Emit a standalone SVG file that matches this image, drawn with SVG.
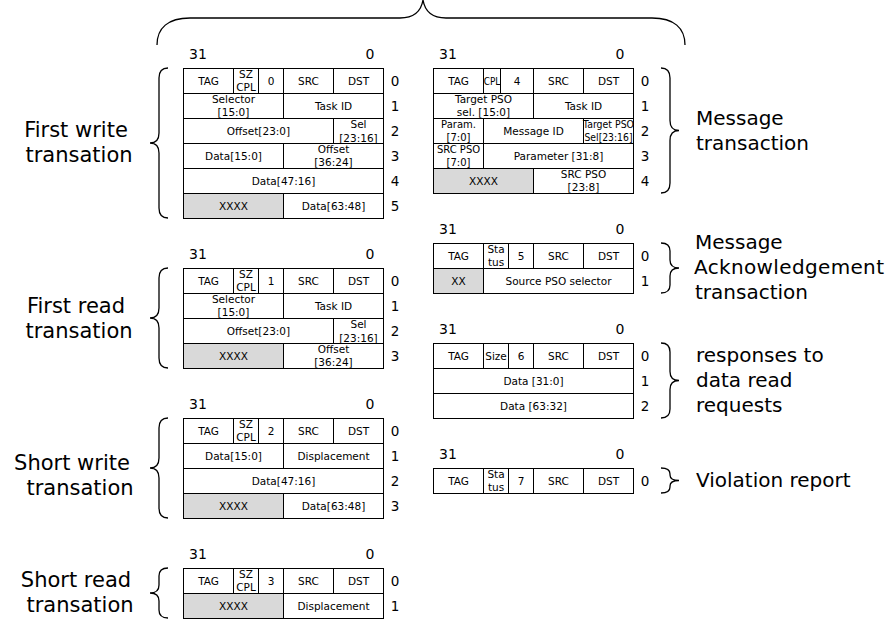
<svg xmlns="http://www.w3.org/2000/svg" width="889" height="630" viewBox="0 0 889 630">
<style>
text{font-family:"DejaVu Sans","Liberation Sans",sans-serif;fill:#000}
.c{font-size:10.5px;text-anchor:middle}
.h{font-size:14px;text-anchor:middle}
.r{font-size:13.5px;text-anchor:middle}
.lbl{font-size:21px;text-anchor:middle}
.rl{font-size:20px}
.box{fill:#fff;stroke:#000;stroke-width:1}
.ln{stroke:#000;stroke-width:1;fill:none}
.g{fill:#d9d9d9;stroke:none}
.br{fill:none;stroke:#000;stroke-width:1.3}
</style>
<rect width="889" height="630" fill="#fff"/>

<g id="braces">
<path class="br" d="M157,45 C157,28 168,18 190,18 L400,18 Q420,18 423,0 Q426,18 446,18 L652,18 C674,18 685,28 685,45"/>
<path class="br" d="M168,68 Q159,68 159,78 L159,133 Q159,143 150,143 Q159,143 159,153 L159,208 Q159,218 168,218"/>
<path class="br" d="M168,268 Q159,268 159,278 L159,308 Q159,318 150,318 Q159,318 159,328 L159,358 Q159,368 168,368"/>
<path class="br" d="M168,418 Q159,418 159,428 L159,458 Q159,468 150,468 Q159,468 159,478 L159,508 Q159,518 168,518"/>
<path class="br" d="M168,568 Q159,568 159,576 L159,585 Q159,593 150,593 Q159,593 159,601 L159,610 Q159,618 168,618"/>
<path class="br" d="M661,68 Q670,68 670,78 L670,120.5 Q670,130.5 679,130.5 Q670,130.5 670,140.5 L670,183 Q670,193 661,193"/>
<path class="br" d="M661,243 Q670,243 670,251 L670,260 Q670,268 679,268 Q670,268 670,276 L670,285 Q670,293 661,293"/>
<path class="br" d="M661,343 Q670,343 670,352 L670,371.5 Q670,380.5 679,380.5 Q670,380.5 670,389.5 L670,409 Q670,418 661,418"/>
<path class="br" d="M661,468 Q670,468 670,474 L670,475 Q670,480.5 679,480.5 Q670,480.5 670,486 L670,487 Q670,493 661,493"/>
</g>

<g id="labels">
<text class="lbl" x="76" y="137">First write</text><text class="lbl" x="79" y="162">transation</text>
<text class="lbl" x="76" y="313">First read</text><text class="lbl" x="79" y="338">transation</text>
<text class="lbl" x="72" y="470">Short write</text><text class="lbl" x="80" y="495">transation</text>
<text class="lbl" x="76" y="587">Short read</text><text class="lbl" x="80" y="612">transation</text>
<text class="rl" x="696" y="125">Message</text><text class="rl" x="696" y="150">transaction</text>
<text class="rl" x="695" y="249">Message</text><text class="rl" x="694" y="274" textLength="190">Acknowledgement</text><text class="rl" x="695" y="299">transaction</text>
<text class="rl" x="696" y="362">responses to</text><text class="rl" x="696" y="387">data read</text><text class="rl" x="696" y="412">requests</text>
<text class="rl" x="696" y="487">Violation report</text>
</g>

<g id="first-write">
<text class="h" x="198" y="59">31</text><text class="h" x="370" y="59">0</text>
<rect class="box" x="183.5" y="68.5" width="200" height="150"/>
<rect class="g" x="184" y="194" width="99.5" height="24"/>
<path class="ln" d="M183.5,93.5H383.5M183.5,118.5H383.5M183.5,143.5H383.5M183.5,168.5H383.5M183.5,193.5H383.5M233.5,68.5V93.5M258.5,68.5V93.5M283.5,68.5V118.5M333.5,68.5V93.5M333.5,118.5V143.5M283.5,143.5V168.5M283.5,193.5V218.5"/>
<text class="c" x="208.5" y="85">TAG</text><text class="c" x="246" y="78">SZ</text><text class="c" x="246" y="91">CPL</text><text class="c" x="271" y="85">0</text><text class="c" x="308.5" y="85">SRC</text><text class="c" x="358.5" y="85">DST</text>
<text class="c" x="233.5" y="103">Selector</text><text class="c" x="233.5" y="116">[15:0]</text><text class="c" x="333.5" y="110">Task ID</text>
<text class="c" x="258.5" y="135">Offset[23:0]</text><text class="c" x="358.5" y="128">Sel</text><text class="c" x="358.5" y="142">[23:16]</text>
<text class="c" x="233.5" y="160">Data[15:0]</text><text class="c" x="333.5" y="153">Offset</text><text class="c" x="333.5" y="166">[36:24]</text>
<text class="c" x="283.5" y="185">Data[47:16]</text>
<text class="c" x="233.5" y="210">XXXX</text><text class="c" x="333.5" y="210">Data[63:48]</text>
<text class="r" x="395" y="86">0</text><text class="r" x="395" y="111">1</text><text class="r" x="395" y="136">2</text><text class="r" x="395" y="161">3</text><text class="r" x="395" y="186">4</text><text class="r" x="395" y="211">5</text>
</g>

<g id="message">
<text class="h" x="448" y="59">31</text><text class="h" x="620" y="59">0</text>
<rect class="box" x="433.5" y="68.5" width="200" height="125"/>
<rect class="g" x="434" y="169" width="99.5" height="24"/>
<text class="c" x="492" y="85" textLength="16.5" lengthAdjust="spacingAndGlyphs">CPL</text><text class="c" x="458.5" y="85">TAG</text><text class="c" x="517" y="85">4</text><text class="c" x="558.5" y="85">SRC</text><text class="c" x="608.5" y="85">DST</text>
<text class="c" x="483.5" y="103">Target PSO</text><text class="c" x="483.5" y="116">sel. [15:0]</text><text class="c" x="583.5" y="110">Task ID</text>
<text class="c" x="458.5" y="128" style="font-size:10px">Param.</text><text class="c" x="458.5" y="141" style="font-size:10px">[7:0]</text><text class="c" x="533.5" y="135">Message ID</text><text class="c" x="608.5" y="128" style="font-size:10px" textLength="51" lengthAdjust="spacingAndGlyphs">Target PSO</text><text class="c" x="608.5" y="141" style="font-size:10px" textLength="48" lengthAdjust="spacingAndGlyphs">Sel[23:16]</text>
<text class="c" x="458.5" y="153" style="font-size:10px">SRC PSO</text><text class="c" x="458.5" y="166" style="font-size:10px">[7:0]</text><text class="c" x="558.5" y="160">Parameter [31:8]</text>
<text class="c" x="483.5" y="185">XXXX</text><text class="c" x="583.5" y="178">SRC PSO</text><text class="c" x="583.5" y="191">[23:8]</text>
<path class="ln" d="M433.5,93.5H633.5M433.5,118.5H633.5M433.5,143.5H633.5M433.5,168.5H633.5M483.5,68.5V93.5M500.5,68.5V93.5M533.5,68.5V118.5M583.5,68.5V93.5M483.5,118.5V168.5M583.5,118.5V143.5M533.5,168.5V193.5M433.5,118.5V193.5M633.5,118.5V143.5"/>
<text class="r" x="645" y="86">0</text><text class="r" x="645" y="111">1</text><text class="r" x="645" y="136">2</text><text class="r" x="645" y="161">3</text><text class="r" x="645" y="186">4</text>
</g>

<g id="first-read">
<text class="h" x="198" y="259">31</text><text class="h" x="370" y="259">0</text>
<rect class="box" x="183.5" y="268.5" width="200" height="100"/>
<rect class="g" x="184" y="344" width="99.5" height="24"/>
<path class="ln" d="M183.5,293.5H383.5M183.5,318.5H383.5M183.5,343.5H383.5M233.5,268.5V293.5M258.5,268.5V293.5M283.5,268.5V318.5M333.5,268.5V293.5M333.5,318.5V343.5M283.5,343.5V368.5"/>
<text class="c" x="208.5" y="285">TAG</text><text class="c" x="246" y="278">SZ</text><text class="c" x="246" y="291">CPL</text><text class="c" x="271" y="285">1</text><text class="c" x="308.5" y="285">SRC</text><text class="c" x="358.5" y="285">DST</text>
<text class="c" x="233.5" y="303">Selector</text><text class="c" x="233.5" y="316">[15:0]</text><text class="c" x="333.5" y="310">Task ID</text>
<text class="c" x="258.5" y="335">Offset[23:0]</text><text class="c" x="358.5" y="328">Sel</text><text class="c" x="358.5" y="342">[23:16]</text>
<text class="c" x="233.5" y="360">XXXX</text><text class="c" x="333.5" y="353">Offset</text><text class="c" x="333.5" y="366">[36:24]</text>
<text class="r" x="395" y="286">0</text><text class="r" x="395" y="311">1</text><text class="r" x="395" y="336">2</text><text class="r" x="395" y="361">3</text>
</g>

<g id="message-ack">
<text class="h" x="448" y="234">31</text><text class="h" x="620" y="234">0</text>
<rect class="box" x="433.5" y="243.5" width="200" height="50"/>
<rect class="g" x="434" y="269" width="49.5" height="24"/>
<path class="ln" d="M433.5,268.5H633.5M483.5,243.5V293.5M508.5,243.5V268.5M533.5,243.5V268.5M583.5,243.5V268.5"/>
<text class="c" x="458.5" y="260">TAG</text><text class="c" x="496" y="253">Sta</text><text class="c" x="496" y="266">tus</text><text class="c" x="521" y="260">5</text><text class="c" x="558.5" y="260">SRC</text><text class="c" x="608.5" y="260">DST</text>
<text class="c" x="458.5" y="285">XX</text><text class="c" x="558.5" y="285">Source PSO selector</text>
<text class="r" x="645" y="261">0</text><text class="r" x="645" y="286">1</text>
</g>

<g id="responses">
<text class="h" x="448" y="334">31</text><text class="h" x="620" y="334">0</text>
<rect class="box" x="433.5" y="343.5" width="200" height="75"/>
<path class="ln" d="M433.5,368.5H633.5M433.5,393.5H633.5M483.5,343.5V368.5M508.5,343.5V368.5M533.5,343.5V368.5M583.5,343.5V368.5"/>
<text class="c" x="458.5" y="360">TAG</text><text class="c" x="496" y="360">Size</text><text class="c" x="521" y="360">6</text><text class="c" x="558.5" y="360">SRC</text><text class="c" x="608.5" y="360">DST</text>
<text class="c" x="533.5" y="385">Data [31:0]</text>
<text class="c" x="533.5" y="410">Data [63:32]</text>
<text class="r" x="645" y="361">0</text><text class="r" x="645" y="386">1</text><text class="r" x="645" y="411">2</text>
</g>

<g id="violation">
<text class="h" x="448" y="459">31</text><text class="h" x="620" y="459">0</text>
<rect class="box" x="433.5" y="468.5" width="200" height="25"/>
<path class="ln" d="M483.5,468.5V493.5M508.5,468.5V493.5M533.5,468.5V493.5M583.5,468.5V493.5"/>
<text class="c" x="458.5" y="485">TAG</text><text class="c" x="496" y="478">Sta</text><text class="c" x="496" y="491">tus</text><text class="c" x="521" y="485">7</text><text class="c" x="558.5" y="485">SRC</text><text class="c" x="608.5" y="485">DST</text>
<text class="r" x="645" y="486">0</text>
</g>

<g id="short-write">
<text class="h" x="198" y="409">31</text><text class="h" x="370" y="409">0</text>
<rect class="box" x="183.5" y="418.5" width="200" height="100"/>
<rect class="g" x="184" y="494" width="99.5" height="24"/>
<path class="ln" d="M183.5,443.5H383.5M183.5,468.5H383.5M183.5,493.5H383.5M233.5,418.5V443.5M258.5,418.5V443.5M283.5,418.5V468.5M333.5,418.5V443.5M283.5,493.5V518.5"/>
<text class="c" x="208.5" y="435">TAG</text><text class="c" x="246" y="428">SZ</text><text class="c" x="246" y="441">CPL</text><text class="c" x="271" y="435">2</text><text class="c" x="308.5" y="435">SRC</text><text class="c" x="358.5" y="435">DST</text>
<text class="c" x="233.5" y="460">Data[15:0]</text><text class="c" x="333.5" y="460">Displacement</text>
<text class="c" x="283.5" y="485">Data[47:16]</text>
<text class="c" x="233.5" y="510">XXXX</text><text class="c" x="333.5" y="510">Data[63:48]</text>
<text class="r" x="395" y="436">0</text><text class="r" x="395" y="461">1</text><text class="r" x="395" y="486">2</text><text class="r" x="395" y="511">3</text>
</g>

<g id="short-read">
<text class="h" x="198" y="559">31</text><text class="h" x="370" y="559">0</text>
<rect class="box" x="183.5" y="568.5" width="200" height="50"/>
<rect class="g" x="184" y="594" width="99.5" height="24"/>
<path class="ln" d="M183.5,593.5H383.5M233.5,568.5V593.5M258.5,568.5V593.5M283.5,568.5V618.5M333.5,568.5V593.5"/>
<text class="c" x="208.5" y="585">TAG</text><text class="c" x="246" y="578">SZ</text><text class="c" x="246" y="591">CPL</text><text class="c" x="271" y="585">3</text><text class="c" x="308.5" y="585">SRC</text><text class="c" x="358.5" y="585">DST</text>
<text class="c" x="233.5" y="610">XXXX</text><text class="c" x="333.5" y="610">Displacement</text>
<text class="r" x="395" y="586">0</text><text class="r" x="395" y="611">1</text>
</g>
</svg>
